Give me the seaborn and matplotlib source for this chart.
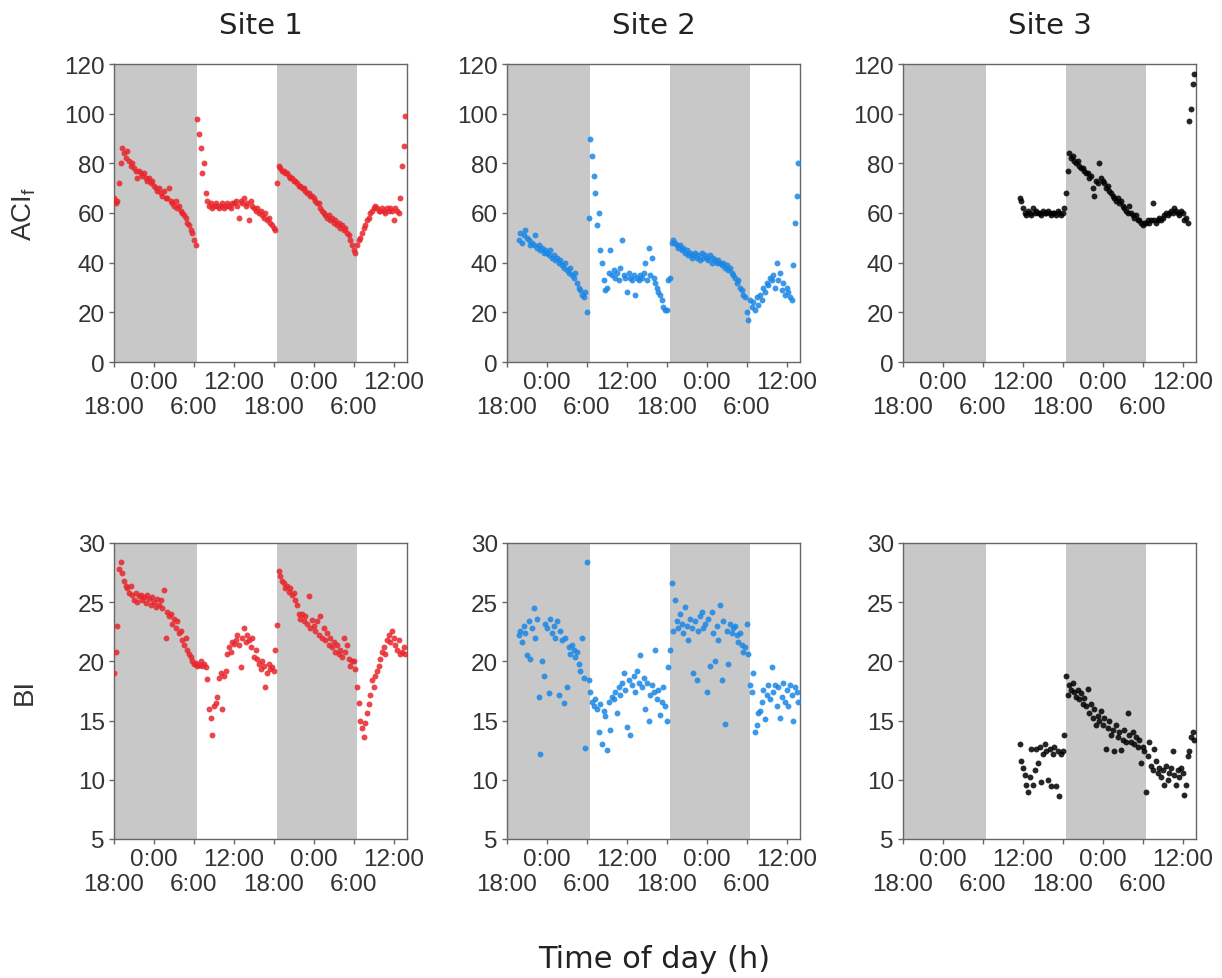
import matplotlib
matplotlib.use('Agg')
import matplotlib.pyplot as plt
import matplotlib.dates as mdates
import matplotlib.ticker as mticker
import pandas as pd
import seaborn as sns

# Recordings every 15 min, start of each site's recording
site_names = ['Site 1', 'Site 2', 'Site 3']
site_starts = ['2017-07-01 18:00', '2017-07-01 19:45', '2017-07-02 11:30']
site_colors = ['#e8262c', '#1a86e6', '#000000']

# Site 1 (one row = 2 hours)
site1_aci = [66, 64, 65, 72, 80, 86, 84, 82,
             85, 81, 79, 80, 78, 77, 74, 77,
             76, 75, 76, 74, 73, 74, 72, 73,
             71, 70, 69, 70, 68, 67, 69, 66,
             66, 70, 65, 64, 63, 65, 62, 63,
             61, 60, 59, 58, 56, 55, 53, 52,
             49, 47, 98, 92, 86, 76, 80, 68,
             65, 63, 64, 62, 63, 64, 63, 62,
             63, 64, 62, 63, 64, 63, 62, 64,
             64, 65, 63, 58, 65, 64, 66, 63,
             64, 57, 65, 63, 62, 61, 62, 60,
             61, 59, 58, 60, 57, 58, 56, 55,
             54, 53, 72, 79, 78, 77, 77, 76,
             76, 75, 74, 74, 73, 73, 72, 71,
             71, 70, 70, 69, 68, 68, 67, 67,
             66, 65, 64, 64, 62, 61, 60, 59,
             58, 59, 57, 58, 56, 57, 55, 56,
             54, 55, 53, 54, 52, 51, 49, 47,
             45, 44, 47, 49, 50, 52, 54, 55,
             57, 58, 60, 61, 62, 63, 62, 61,
             61, 62, 61, 60, 62, 61, 62, 61,
             57, 62, 61, 60, 66, 79, 87, 99]
site1_bi = [19.0, 20.8, 23.0, 27.8, 28.4, 27.5, 26.8, 26.4,
            26.2, 25.8, 26.4, 25.6, 25.2, 25.8, 25.0, 25.5,
            25.6, 25.2, 25.4, 24.9, 25.6, 25.3, 24.8, 25.4,
            25.0, 24.6, 25.3, 24.8, 25.2, 24.5, 26.0, 22.0,
            24.2, 23.8, 24.0, 23.2, 23.6, 22.8, 23.4, 22.4,
            22.6, 21.8, 21.4, 22.0, 21.0, 20.6, 20.4, 20.0,
            19.8, 19.9, 19.6, 19.7, 20.0, 19.6, 19.8, 19.5,
            18.5, 16.0, 15.2, 13.8, 16.2, 16.5, 17.0, 18.6,
            19.0, 16.0, 18.8, 19.2, 20.6, 21.2, 20.8, 21.6,
            21.5, 21.8, 22.2, 21.4, 19.5, 22.0, 22.8, 21.6,
            22.2, 21.8, 21.2, 22.0, 20.4, 21.0, 20.2, 19.8,
            19.4, 20.0, 19.6, 17.8, 19.0, 19.8, 19.4, 19.5,
            19.2, 21.0, 23.1, 27.6, 27.2, 26.8, 26.6, 26.2,
            26.4, 25.9, 26.2, 25.6, 25.8, 25.2, 24.8, 24.0,
            23.6, 24.0, 23.4, 23.8, 23.2, 25.5, 22.8, 23.5,
            23.0, 22.6, 23.4, 22.2, 23.8, 22.0, 22.8, 21.8,
            22.4, 21.4, 22.0, 21.2, 21.6, 20.8, 21.4, 20.6,
            21.0, 20.4, 22.0, 20.8, 21.4, 20.2, 19.6, 20.0,
            20.0, 19.4, 17.8, 16.5, 15.0, 14.4, 13.6, 14.8,
            15.6, 16.4, 17.2, 18.4, 17.8, 18.8, 19.2, 19.6,
            20.2, 20.8, 21.2, 20.6, 21.8, 22.2, 21.6, 22.6,
            22.0, 21.4, 21.0, 21.8, 20.6, 20.8, 21.2, 20.6]

# Site 2
site2_aci = [49,
             52, 48, 51, 53, 50, 49, 47, 48,
             47, 51, 46, 47, 45, 46, 44, 45,
             44, 43, 45, 42, 43, 41, 42, 40,
             41, 39, 38, 40, 37, 36, 38, 35,
             34, 36, 32, 30, 29, 27, 26, 28,
             20, 58, 90, 83, 75, 68, 55, 60,
             45, 40, 33, 29, 30, 36, 45, 35,
             37, 34, 36, 33, 38, 49, 35, 34,
             28, 36, 34, 33, 35, 27, 34, 33,
             35, 34, 36, 40, 33, 46, 35, 42,
             34, 32, 30, 28, 27, 25, 22, 21,
             21, 33, 34, 48, 49, 48, 47, 46,
             47, 45, 46, 44, 45, 43, 44, 42,
             43, 44, 42, 43, 41, 44, 42, 43,
             42, 41, 43, 40, 42, 41, 40, 41,
             40, 39, 40, 38, 39, 37, 38, 36,
             35, 34, 32, 33, 30, 29, 27, 26,
             20, 17, 25, 22, 24, 21, 26, 23,
             27, 25, 30, 28, 32, 31, 34, 33,
             35, 30, 40, 33, 36, 29, 32, 27,
             30, 28, 26, 25, 39, 56, 67, 80]
site2_bi = [22.2,
            22.6, 21.6, 23.0, 22.4, 20.5, 23.4, 20.2, 22.8,
            24.5, 22.0, 23.6, 17.0, 12.2, 20.0, 18.8, 23.2,
            22.8, 17.3, 23.6, 22.4, 23.0, 22.0, 23.4, 17.2,
            22.6, 21.8, 16.5, 22.0, 17.8, 21.2, 20.6, 21.4,
            21.0, 20.4, 20.8, 19.8, 19.2, 22.0, 18.6, 12.7,
            28.4, 18.4, 17.4, 16.6, 16.2, 16.8, 16.0, 14.0,
            16.4, 13.0, 15.8, 15.4, 12.5, 16.6, 14.2, 17.0,
            16.8, 17.4, 15.6, 17.8, 17.2, 18.2, 19.0, 17.6,
            14.5, 18.4, 13.8, 18.0, 18.8, 17.4, 19.2, 18.2,
            20.5, 17.8, 18.6, 16.0, 18.2, 15.0, 17.2, 18.0,
            17.4, 21.0, 16.8, 17.6, 15.5, 16.6, 17.8, 16.2,
            15.0, 19.5, 21.0, 26.6, 22.6, 25.2, 23.4, 22.8,
            24.0, 23.2, 22.4, 24.6, 23.0, 21.8, 23.6, 22.8,
            19.0, 23.4, 18.4, 22.6, 23.8, 24.2, 22.8, 23.2,
            17.4, 23.6, 19.6, 24.2, 22.4, 20.0, 23.0, 21.8,
            24.8, 18.4, 23.4, 14.7, 22.6, 19.8, 23.2, 22.4,
            22.8, 23.0, 22.2, 21.6, 22.4, 21.4, 20.8, 21.2,
            23.2, 20.6, 18.0, 17.4, 19.0, 14.0, 14.6, 15.6,
            15.8, 16.6, 17.6, 15.1, 17.2, 18.0, 16.8, 19.5,
            17.4, 18.0, 16.2, 17.8, 15.2, 17.0, 18.2, 16.6,
            17.6, 16.2, 18.0, 17.2, 15.0, 17.8, 17.4, 16.6]

# Site 3
site3_aci = [66, 65,
             62, 60, 59, 61, 60, 59, 62, 60,
             61, 60, 60, 59, 61, 60, 60, 61,
             60, 59, 60, 60, 59, 61, 60, 59,
             60, 62, 68, 77, 84, 82, 83, 81,
             80, 81, 79, 78, 78, 77, 76, 76,
             74, 75, 70, 67, 73, 72, 80, 74,
             73, 72, 70, 71, 69, 68, 67, 66,
             65, 66, 64, 65, 63, 62, 61, 60,
             63, 60, 59, 58, 59, 57, 57, 56,
             55, 56, 56, 57, 56, 57, 64, 57,
             56, 57, 58, 57, 58, 59, 60, 59,
             60, 61, 60, 62, 61, 60, 59, 61,
             60, 57, 58, 56, 97, 102, 112, 116]
site3_bi = [13.0, 11.6,
            11.0, 10.4, 9.6, 9.0, 10.2, 12.6, 9.6, 10.8,
            12.6, 11.4, 12.8, 9.8, 12.2, 13.0, 12.4, 10.0,
            12.6, 9.5, 12.2, 12.8, 9.5, 12.4, 8.6, 12.2,
            12.4, 13.8, 18.8, 17.2, 18.0, 17.6, 18.2, 17.4,
            17.0, 17.6, 16.8, 17.3, 16.4, 16.9, 16.2, 17.7,
            15.6, 16.4, 15.2, 16.0, 14.6, 15.4, 15.0, 15.8,
            14.6, 15.2, 12.6, 14.4, 15.0, 13.8, 14.2, 12.4,
            14.6, 13.6, 14.0, 12.5, 13.4, 14.2, 13.2, 15.6,
            13.8, 13.2, 14.0, 13.0, 13.6, 12.8, 13.4, 11.4,
            12.8, 12.4, 9.0, 12.0, 13.2, 11.2, 10.8, 12.6,
            11.6, 10.6, 11.0, 10.2, 10.8, 9.6, 11.2, 10.0,
            10.6, 11.0, 12.4, 10.4, 9.6, 10.8, 10.2, 11.0,
            10.6, 8.7, 9.6, 12.0, 12.4, 13.6, 14.0, 13.4]

aci_values = [site1_aci, site2_aci, site3_aci]
bi_values = [site1_bi, site2_bi, site3_bi]

# Night periods (shaded)
nights = [('2017-07-01 17:00', '2017-07-02 06:25'),
          ('2017-07-02 18:30', '2017-07-03 06:25')]
x_start, x_end = '2017-07-01 18:00', '2017-07-03 14:00'

# tick labels sit on two rows: upper row (0:00, 12:00), lower row (18:00, 6:00)
upper_ticks = ['2017-07-02 00:00', '2017-07-02 12:00', '2017-07-03 00:00', '2017-07-03 12:00']
upper_labels = ['0:00', '12:00', '0:00', '12:00']
lower_ticks = ['2017-07-01 18:00', '2017-07-02 06:00', '2017-07-02 18:00', '2017-07-03 06:00']
lower_labels = ['18:00', '6:00', '18:00', '6:00']

aci_ticks = [0, 20, 40, 60, 80, 100, 120]
bi_ticks = [5, 10, 15, 20, 25, 30]

sns.set_style('white')
plt.rcParams['font.family'] = ['Liberation Sans', 'DejaVu Sans']

fig = plt.figure(figsize=(12.22, 9.79), dpi=100)
W, H = 1222, 979
lefts = [114, 507, 903]
width = 293
rows = [(65, 363), (544, 840)]

for r, (top, bottom) in enumerate(rows):
    for c in range(3):
        ax = fig.add_axes([lefts[c] / W, 1 - bottom / H, width / W, (bottom - top) / H])
        vals = aci_values[c] if r == 0 else bi_values[c]
        df = pd.DataFrame({
            'time': pd.date_range(site_starts[c], periods=len(vals), freq='15min'),
            'value': vals,
        })
        for n0, n1 in nights:
            ax.axvspan(pd.Timestamp(n0), pd.Timestamp(n1), color='#c8c8c8', lw=0, zorder=0)
        sns.scatterplot(data=df, x='time', y='value', color=site_colors[c], s=18,
                        linewidth=0, alpha=0.85, ax=ax, zorder=3)
        ax.set_xlim(pd.Timestamp(x_start), pd.Timestamp(x_end))
        ax.xaxis.set_major_locator(mticker.FixedLocator(
            mdates.date2num(pd.to_datetime(upper_ticks))))
        ax.xaxis.set_major_formatter(mticker.FixedFormatter(upper_labels))
        ax.xaxis.set_minor_locator(mticker.FixedLocator(
            mdates.date2num(pd.to_datetime(lower_ticks))))
        ax.xaxis.set_minor_formatter(mticker.FixedFormatter(lower_labels))
        if r == 0:
            ax.set_ylim(0, 120)
            ax.set_yticks(aci_ticks)
        else:
            ax.set_ylim(5, 30)
            ax.set_yticks(bi_ticks)
        ax.set_xlabel('')
        ax.set_ylabel('')
        for sp in ax.spines.values():
            sp.set_color('#666666')
            sp.set_linewidth(1)
        ax.tick_params(which='both', direction='out', length=3.5, width=1, color='#666666',
                       labelcolor='#333333', labelsize=17.5, pad=3,
                       bottom=True, left=True)
        ax.tick_params(axis='x', which='minor', pad=21)
        if r == 0:
            ax.set_title(site_names[c], fontsize=21, family='DejaVu Sans',
                         color='#222222', pad=22)
        if c == 0:
            ax.set_ylabel('ACI$_\\mathregular{f}$' if r == 0 else 'BI',
                          fontsize=20, color='#333333')
            ax.yaxis.set_label_coords(-0.26, 0.5)

fig.text(0.535, 0.02, 'Time of day (h)', ha='center', va='center',
         fontsize=22, family='DejaVu Sans', color='#222222')

fig.savefig('out.png', dpi=100)
